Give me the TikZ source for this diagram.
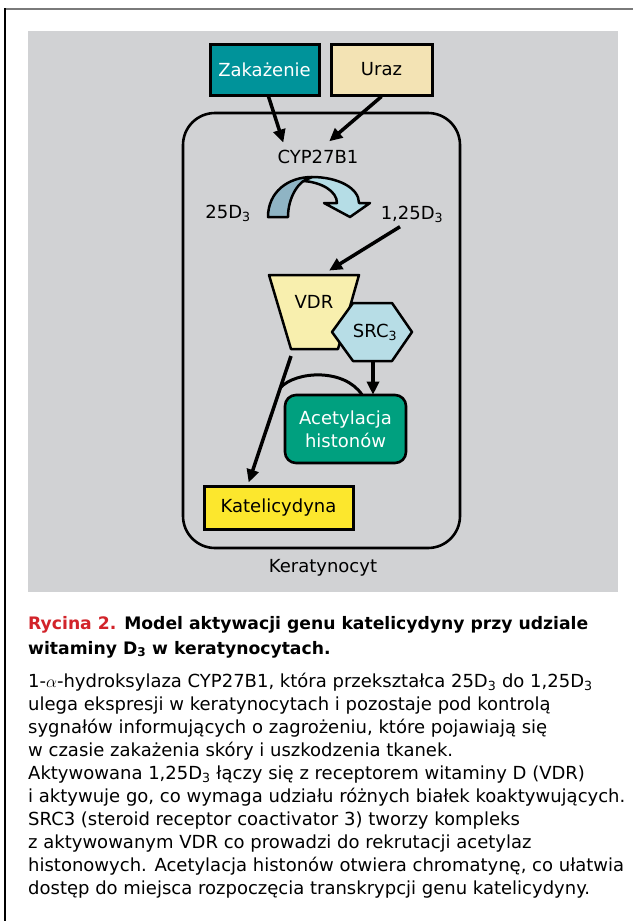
\documentclass[tikz,border=0pt]{standalone}
\usepackage{fontspec}
\setmainfont{DejaVu Sans}
\usetikzlibrary{arrows.meta,calc}
\definecolor{panelgray}{HTML}{D1D2D4}
\definecolor{rulegray}{HTML}{7A7A7A}
\definecolor{zakteal}{HTML}{00939A}
\definecolor{urazcol}{HTML}{F3E3B4}
\definecolor{vdrcol}{HTML}{F8EFAE}
\definecolor{srccol}{HTML}{B7DDE6}
\definecolor{acetcol}{HTML}{00A07F}
\definecolor{katcol}{HTML}{FCE72D}
\definecolor{curvedark}{HTML}{8FB4C4}
\definecolor{curvelight}{HTML}{B5DDE6}
\definecolor{rycred}{HTML}{D2232A}
\newcommand\subs[1]{\textsubscript{#1}}
\tikzset{
  lbl/.style={inner sep=0pt, font=\fontsize{18}{21}\selectfont, text height=13.2pt, text depth=4pt},
  boxnode/.style={draw, line width=3pt, inner sep=0pt, font=\fontsize{18}{21}\selectfont},
  arr/.style={line width=3.5pt, -{Triangle[length=13pt,width=12pt]}, shorten >=-1pt},
  shapeline/.style={draw, line width=2.5pt, line join=round},
  titleline/.style={anchor=base west, inner sep=0pt, font=\bfseries\fontsize{17.2}{20}\selectfont},
  bodyline/.style={anchor=base west, inner sep=0pt, font=\fontsize{18}{20}\selectfont},
}
\begin{document}
\begin{tikzpicture}[x=1pt,y=-1pt]
\useasboundingbox (0,0) rectangle (633,921);
\fill[white] (0,0) rectangle (633,921);
\draw[rulegray, line width=2.2pt] (5,9) -- (633,9);
\draw[black, line width=1.6pt] (5,8) -- (5,921);
\fill[panelgray] (28,31) rectangle (618,592);

% cell
\node[draw, line width=2.6pt, rounded corners=32pt, minimum width=277pt, minimum height=435pt, inner sep=0pt] (cell) at (321.5,330.5) {};
\node[lbl, anchor=base] (ker) at (323,572) {Keratynocyt};

% top boxes
\node[boxnode, fill=zakteal, text=white, minimum width=109pt, minimum height=51pt] (zak) at (264.5,69.5) {Zakażenie};
\node[boxnode, fill=urazcol, minimum width=101pt, minimum height=51pt] (uraz) at (381.5,69.5) {Uraz};

% labels
\node[lbl, anchor=base] (cyp) at (318,163) {CYP27B1};
\node[lbl, anchor=base] (d25) at (228,218) {25D\subs{3}};
\node[lbl, anchor=base] (d125) at (412,219.5) {1,25D\subs{3}};

% curved conversion arrow
\draw[line width=2.5pt, line join=round, fill=curvelight]
  (312,177) .. controls (338,177) and (359,188) .. (359,203)
  -- (370,203) -- (350,217) -- (324,203) -- (337,203)
  .. controls (337,191) and (321,182) .. (303,181) -- cycle;
\draw[line width=2.5pt, line join=round, fill=curvedark]
  (268,217) .. controls (268,192) and (288,177) .. (312,177)
  .. controls (298,180) and (288,198) .. (288,217) -- cycle;

% arrows into CYP27B1
\draw[arr] ($(zak.south)+(4,0)$) -- ($(cyp.north)+(-35,-8)$);
\draw[arr] ($(uraz.south)+(0,0)$) -- ($(cyp.north)+(12,-9)$);

% VDR
\coordinate (vdrtl) at (269,275);
\coordinate (vdrtr) at (359,275);
\coordinate (vdrbr) at (338,349);
\coordinate (vdrbl) at (291,349);
\draw[shapeline, fill=vdrcol] (vdrtl) -- (vdrtr) -- (vdrbr) -- (vdrbl) -- cycle;
\node[lbl, anchor=base] (vdr) at (314,308) {VDR};
\draw[arr] ($(d125.south)+(-12,3)$) -- ($(vdrtr)+(-29,-5)$);

% SRC3
\coordinate (srcl) at (332,332);
\coordinate (srcr) at (412,332);
\draw[shapeline, fill=srccol] (srcl) -- (353,303) -- (392,303) -- (srcr) -- (392,361) -- (353,361) -- cycle;
\node[lbl, anchor=base] (src) at (375,337) {SRC\subs{3}};
\coordinate (srcb) at (373,362);

% Acetylacja
\node[draw, line width=2.6pt, rounded corners=11pt, fill=acetcol, text=white, minimum width=121pt, minimum height=68pt, inner sep=0pt, align=center, font=\fontsize{18}{23}\selectfont] (acet) at (345.5,429) {Acetylacja\\histonów};
\draw[arr] (srcb) -- (acet.north -| srcb);

% Katelicydyna
\node[boxnode, fill=katcol, minimum width=149pt, minimum height=43pt] (kat) at (278.5,507.5) {Katelicydyna};

% long arrow VDR -> Katelicydyna
\coordinate (lstart) at ($(vdrbl)+(0,7)$);
\coordinate (lend) at ($(kat.north)+(-29.5,-3)$);
\draw[arr] (lstart) -- (lend);
\draw[line width=3pt] ($(lstart)!0.252!(lend)$) .. controls (296,371) and (344,368) .. ($(acet.north)+(16.5,1)$);

% caption
\node[titleline] (t1) at (28,629) {\textcolor{rycred}{Rycina 2.} Model aktywacji genu katelicydyny przy udziale};
\node[titleline] (t2) at (28,654) {witaminy D\subs{3} w keratynocytach.};
\node[bodyline] (b1) at (28,687) {1-$\alpha$-hydroksylaza CYP27B1, która przekształca 25D\subs{3} do 1,25D\subs{3}};
\node[bodyline] (b2) at (28,710) {ulega ekspresji w keratynocytach i pozostaje pod kontrolą};
\node[bodyline] (b3) at (28,733) {sygnałów informujących o zagrożeniu, które pojawiają się};
\node[bodyline] (b4) at (28,756) {w czasie zakażenia skóry i uszkodzenia tkanek.};
\node[bodyline] (b5) at (28,779) {Aktywowana 1,25D\subs{3} łączy się z receptorem witaminy D (VDR)};
\node[bodyline] (b6) at (28,802) {i aktywuje go, co wymaga udziału różnych białek koaktywujących.};
\node[bodyline] (b7) at (28,825) {SRC3 (steroid receptor coactivator 3) tworzy kompleks};
\node[bodyline] (b8) at (28,848) {z aktywowanym VDR co prowadzi do rekrutacji acetylaz};
\node[bodyline] (b9) at (28,871) {histonowych. Acetylacja histonów otwiera chromatynę, co ułatwia};
\node[bodyline] (b10) at (28,894) {dostęp do miejsca rozpoczęcia transkrypcji genu katelicydyny.};
\end{tikzpicture}
\end{document}
